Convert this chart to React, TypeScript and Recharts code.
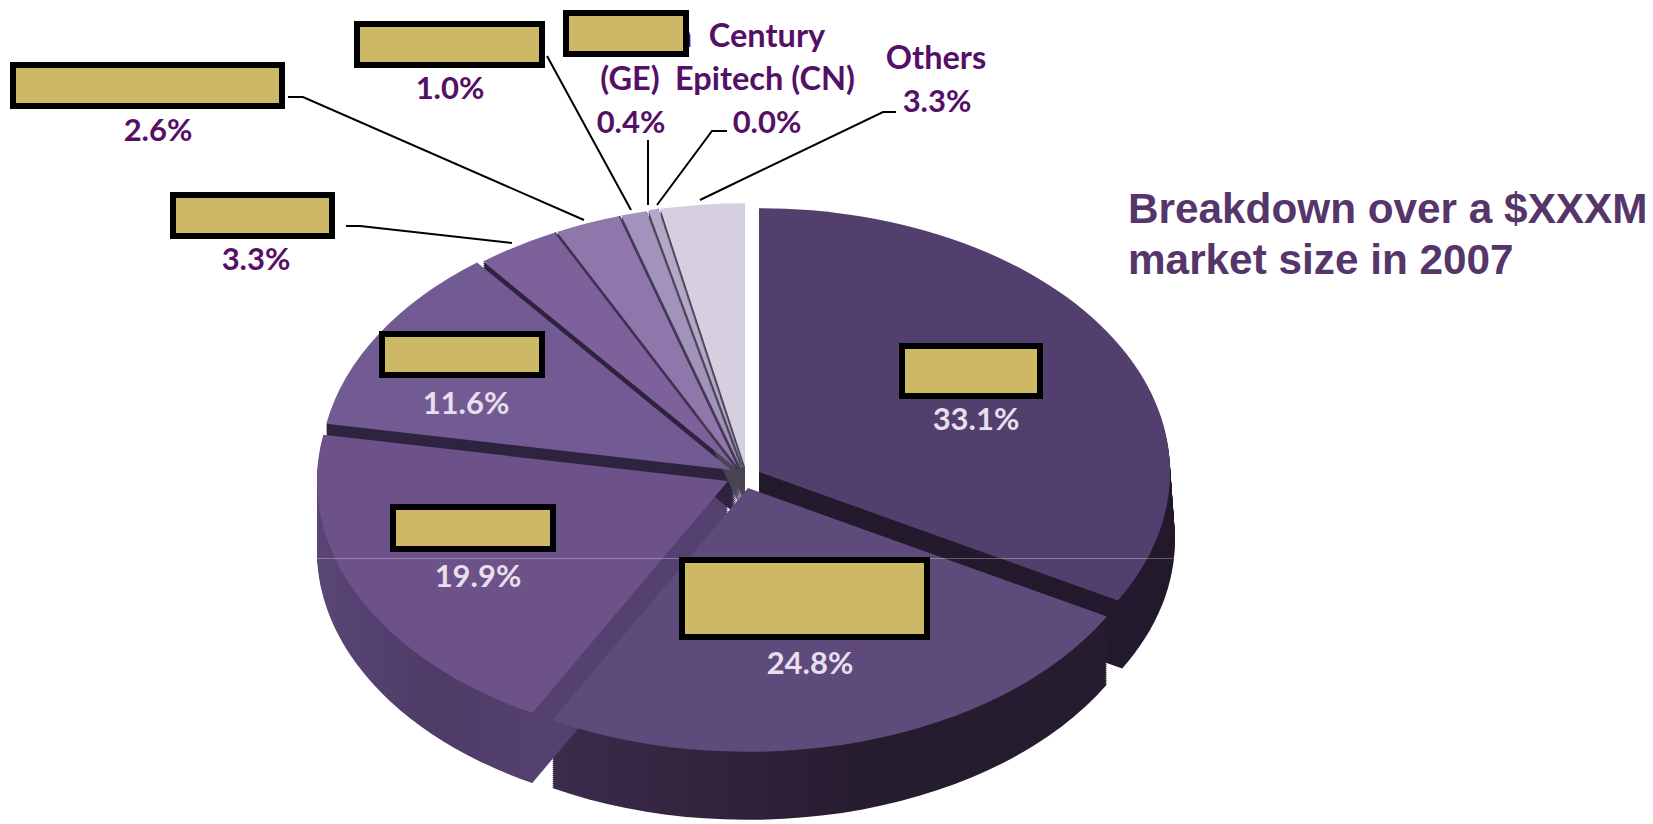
import React from "react";
import { PieChart, Pie, Sector } from "recharts";

// ---- data (clockwise from 12 o'clock) ----
const shares = [33.1, 24.8, 19.9, 11.6, 3.3, 2.6, 1.0, 0.4, 0.0, 3.3];
const visibleNames = ["", "", "", "", "", "", "", "(GE)", "Century Epitech (CN)", "Others"];
const titleLines = ["Breakdown over a $XXXM", "market size in 2007"];

// ---- styling ----
const topColors = ["#533F6D", "#5F4A7C", "#6C5289", "#725A92", "#7E619B", "#8F77AB", "#A392BB", "#B3A8C7", "#BDB4CD", "#D5CFE0"];
const sideColors = ["#241A2E", "url(#side1)", "url(#side2)", "#2E2340", "#2E2340", "#3D3050", "#4A4455", "#4A4455", "#4A4455", "#4A4455"];
const centers: [number, number][] = [
  [759, 472], [748, 488], [728, 481], [731, 470], [737, 469],
  [739, 468.5], [741, 468], [743, 467], [744, 467], [745, 467],
];
const depths = [68, 68, 70, 14, 46, 14, 40, 40, 40, 40];
const RADIUS = 411;
const SQUASH = 0.642;
const GOLD = "#CDB866";
const OUTER_TEXT = "#560F66";
const INNER_TEXT = "#E6DFEE";

type Box = [number, number, number, number];
type Layout = {
  box?: Box; pct: [number, number]; color: string; leader?: string;
  names?: { t: string; x: number; y: number }[];
};
const layouts: Layout[] = [
  { box: [899, 343, 144, 56], pct: [976, 430], color: INNER_TEXT },
  { box: [679, 557, 251, 83], pct: [810, 674], color: INNER_TEXT },
  { box: [390, 504, 166, 48], pct: [478, 587], color: INNER_TEXT },
  { box: [379, 331, 166, 47], pct: [466, 414], color: INNER_TEXT },
  { box: [170, 192, 165, 47], pct: [256, 270], color: OUTER_TEXT, leader: "346,226 360,226 512,243" },
  { box: [10, 62, 275, 47], pct: [158, 141], color: OUTER_TEXT, leader: "288,97 303,97 584,220" },
  { box: [354, 21, 191, 47], pct: [450, 99], color: OUTER_TEXT, leader: "547,56 631,210" },
  { box: [563, 10, 126, 47], pct: [631, 133], color: OUTER_TEXT, leader: "648,140 648,205",
    names: [{ t: "n", x: 683, y: 47 }, { t: "(GE)", x: 630, y: 90 }] },
  { pct: [767, 133], color: OUTER_TEXT, leader: "727,131 712,131 657,205",
    names: [{ t: "Century", x: 767, y: 47 }, { t: "Epitech (CN)", x: 765, y: 90 }] },
  { pct: [937, 112], color: OUTER_TEXT, leader: "896,112 883,112 700,200",
    names: [{ t: "Others", x: 936, y: 69 }] },
];

const pieData = shares.map((value, slice) => ({ value, slice, name: visibleNames[slice] }));

function sliceOf(p: any): number {
  return p.slice ?? p.payload?.slice ?? 0;
}

function SideShape(p: any) {
  const i = sliceOf(p);
  const [cx, cy] = centers[i];
  const layers: number[] = [];
  for (let d = depths[i]; d > 0; d -= 2) layers.push(d);
  const flare = i === 0 ? 0.012 : 0;
  return (
    <g>
      {i === 1 && (
        <defs>
          <linearGradient id="side1" gradientUnits="userSpaceOnUse" x1={-220} x2={120} y1={0} y2={0}>
            <stop offset="0" stopColor="#3E2C4E" />
            <stop offset="1" stopColor="#261C2F" />
          </linearGradient>
        </defs>
      )}
      {i === 2 && (
        <defs>
          <linearGradient id="side2" gradientUnits="userSpaceOnUse" x1={-411} x2={-180} y1={0} y2={0}>
            <stop offset="0" stopColor="#594676" />
            <stop offset="0.5" stopColor="#4E3B66" />
            <stop offset="1" stopColor="#55416F" />
          </linearGradient>
        </defs>
      )}
      {layers.map((d) => (
        <g key={d} transform={`translate(${cx},${cy + d}) scale(${1 + (flare * d) / 68},${SQUASH})`}>
          <Sector cx={0} cy={0} innerRadius={0} outerRadius={RADIUS} startAngle={p.startAngle} endAngle={p.endAngle} fill={sideColors[i]} stroke="none" />
        </g>
      ))}
    </g>
  );
}

function TopShape(p: any) {
  const i = sliceOf(p);
  const [cx, cy] = centers[i];
  const a = (p.endAngle * Math.PI) / 180;
  return (
    <g transform={`translate(${cx},${cy}) scale(1,${SQUASH})`}>
      <Sector cx={0} cy={0} innerRadius={0} outerRadius={RADIUS} startAngle={p.startAngle} endAngle={p.endAngle} fill={topColors[i]} stroke="none" />
      {i >= 4 && i <= 7 && (
        <line
          x1={0} y1={0}
          x2={Math.cos(a) * RADIUS} y2={-Math.sin(a) * RADIUS}
          stroke={i <= 5 ? "#3F3252" : "#7A7090"}
          strokeWidth={i <= 5 ? 1.4 : 1}
          strokeDasharray={i >= 6 ? "3 2" : undefined}
          vectorEffect="non-scaling-stroke"
        />
      )}
    </g>
  );
}

function SliceLabel(p: any) {
  const i = sliceOf(p);
  const l = layouts[i];
  const face = { fontFamily: "Lato, sans-serif", fontWeight: 700 };
  return (
    <g>
      {l.leader && <polyline points={l.leader} fill="none" stroke="#000" strokeWidth={2} />}
      {l.names?.map((n) => (
        <text key={n.t} x={n.x} y={n.y} textAnchor="middle" fill={l.color} fontSize={32.5} {...face}>{n.t}</text>
      ))}
      {l.box && (
        <rect x={l.box[0] + 3} y={l.box[1] + 3} width={l.box[2] - 6} height={l.box[3] - 6} fill={GOLD} stroke="#000" strokeWidth={6} />
      )}
      <text x={l.pct[0]} y={l.pct[1]} textAnchor="middle" fill={l.color} fontSize={31} {...face}>
        {shares[i].toFixed(1)}%
      </text>
    </g>
  );
}

export default function App() {
  return (
    <div style={{ position: "absolute", left: 0, top: 0, width: 1653, height: 824, background: "#fff", overflow: "hidden" }}>
      <PieChart width={1653} height={824} margin={{ top: 0, right: 0, bottom: 0, left: 0 }}>
        <Pie data={pieData} dataKey="value" cx={745} cy={467} startAngle={90} endAngle={-270} innerRadius={0} outerRadius={RADIUS}
          stroke="none" isAnimationActive={false} label={false} labelLine={false} shape={SideShape} />
        <Pie data={pieData} dataKey="value" cx={745} cy={467} startAngle={90} endAngle={-270} innerRadius={0} outerRadius={RADIUS}
          stroke="none" isAnimationActive={false} label={SliceLabel} labelLine={false} shape={TopShape} />
      </PieChart>
      <svg width={1653} height={824} style={{ position: "absolute", left: 0, top: 0, pointerEvents: "none" }}>
        <line x1={313} x2={679} y1={558.5} y2={558.5} stroke="#fff" strokeOpacity={0.3} />
        <line x1={930} x2={1176} y1={558.5} y2={558.5} stroke="#fff" strokeOpacity={0.3} />
        {titleLines.map((t, i) => (
          <text key={t} x={1128} y={223 + i * 51} fill="#55356A" fontFamily="'Liberation Sans', Arial, sans-serif" fontWeight={700} fontSize={42.3}>{t}</text>
        ))}
      </svg>
    </div>
  );
}
